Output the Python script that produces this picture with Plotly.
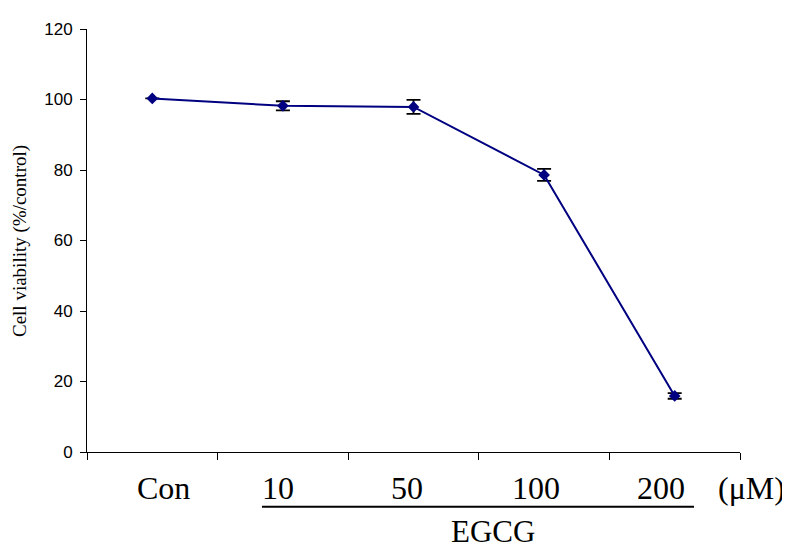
import plotly.graph_objects as go

# ---- data ----
categories = ["Con", "10", "50", "100", "200"]
viability = [100.3, 98.2, 97.9, 78.6, 15.9]
errors = [0.0, 1.3, 2.0, 1.7, 0.8]
y_ticks = [0, 20, 40, 60, 80, 100, 120]
y_title = "Cell viability (%/control)"
group_label = "EGCG"
unit_label = "(\u03bcM)"

# layout-only label nudges (px)
label_xshift = [11, -5, -7, -8, -14]

xs = list(range(len(categories)))

fig = go.Figure()
fig.add_trace(go.Scatter(
    x=xs, y=viability,
    mode="lines+markers",
    line=dict(color="#000080", width=2),
    marker=dict(symbol="diamond", size=9, color="#000080"),
    error_y=dict(type="data", array=errors, visible=True,
                 color="black", thickness=1.8, width=7),
    showlegend=False,
    cliponaxis=False,
))

serif = "Liberation Serif, Times New Roman, serif"
sans = "Liberation Sans, Arial, sans-serif"

annotations = []
for i, c in enumerate(categories):
    annotations.append(dict(
        x=i, xref="x", y=0, yref="paper", yanchor="middle", xanchor="center",
        yshift=-36, xshift=label_xshift[i], text=c, showarrow=False,
        font=dict(family=serif, size=32, color="black")))
annotations.append(dict(
    x=1.0176, xref="paper", y=0, yref="paper", yanchor="middle", xanchor="center",
    yshift=-36, text=unit_label, showarrow=False,
    font=dict(family=serif, size=32, color="black")))
annotations.append(dict(
    x=0.621, xref="paper", y=0, yref="paper", yanchor="middle", xanchor="center",
    yshift=-79, text=group_label, showarrow=False,
    font=dict(family=serif, size=31, color="black")))
annotations.append(dict(
    x=-0.1026, xref="paper", y=0.4988, yref="paper", xanchor="center",
    yanchor="middle", textangle=-90, text=y_title, showarrow=False,
    font=dict(family=serif, size=19, color="black")))

fig.update_layout(
    width=782, height=541,
    margin=dict(l=79, r=50, t=15, b=97),
    paper_bgcolor="white", plot_bgcolor="white",
    annotations=annotations,
    shapes=[dict(type="line", xref="x", yref="paper",
                 x0=0.84, x1=4.148, y0=-0.1294, y1=-0.1294,
                 line=dict(color="black", width=2))],
    xaxis=dict(range=[-0.5, len(categories) - 0.5],
               tickvals=[i - 0.5 for i in range(len(categories) + 1)],
               showticklabels=False, ticks="outside", ticklen=7,
               tickcolor="black", tickwidth=1,
               showline=True, linecolor="black", linewidth=1,
               showgrid=False, zeroline=False),
    yaxis=dict(range=[0, 120], tickvals=y_ticks,
               ticks="outside", ticklen=6, tickcolor="black", tickwidth=1,
               showline=True, linecolor="black", linewidth=1,
               showgrid=False, zeroline=False,
               ticklabelstandoff=4,
               tickfont=dict(family=sans, size=17, color="black")),
)

fig.write_html("out.html")
